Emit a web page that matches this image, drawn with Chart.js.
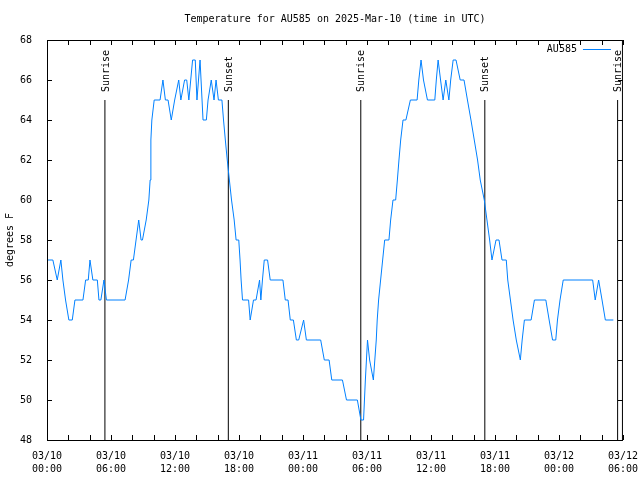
<!DOCTYPE html>
<html>
<head>
<meta charset="utf-8">
<title>Temperature for AU585</title>
<script src="https://cdn.jsdelivr.net/npm/chart.js@4.4.1/dist/chart.umd.min.js"></script>
<style>
  body { margin: 0; background: #fff; }
  canvas { display: block; }
</style>
</head>
<body>
<canvas id="tempChart" width="640" height="480"></canvas>
<script>
// hours since 03/10 00:00 UTC, and the reading in degrees F
const hours = [
  0, 0.55, 0.96, 1.3, 1.49, 1.74, 2.05, 2.37, 2.62, 3.37,
  3.62, 3.87, 4.03, 4.3, 4.72, 4.87, 5.05, 5.34, 5.57, 7.32,
  7.65, 7.89, 8.1, 8.35, 8.6, 8.82, 8.95, 9.3, 9.55, 9.67,
  9.74, 9.83, 10.05, 10.6, 10.87, 11.1, 11.35, 11.65, 11.97, 12.35,
  12.55, 12.9, 13.1, 13.3, 13.65, 13.9, 14.06, 14.35, 14.63, 14.94,
  15.1, 15.4, 15.66, 15.85, 16.07, 16.4, 16.55, 16.72, 16.9, 17.1,
  17.3, 17.55, 17.73, 17.98, 18.1, 18.2, 18.33, 18.9, 19.05, 19.36,
  19.6, 19.93, 20.05, 20.2, 20.37, 20.68, 20.93, 22.12, 22.34, 22.6,
  22.81, 23.1, 23.38, 23.6, 24.06, 24.32, 25.66, 26.0, 26.45, 26.7,
  27.7, 28.08, 29.1, 29.43, 29.68, 29.85, 30.05, 30.25, 30.6, 30.87,
  30.96, 31.09, 31.28, 31.47, 31.66, 32.06, 32.22, 32.44, 32.69, 32.85,
  33.0, 33.16, 33.38, 33.65, 34.07, 34.7, 34.86, 35.07, 35.3, 35.67,
  36.36, 36.5, 36.67, 36.9, 37.14, 37.39, 37.68, 37.85, 38.08, 38.35,
  38.74, 39.1, 39.42, 39.75, 40.06, 40.37, 40.62, 41.0, 41.25, 41.5,
  41.72, 42.1, 42.38, 42.66, 43.06, 43.2, 43.45, 43.7, 44.0, 44.38,
  44.55, 44.76, 45.39, 45.7, 46.77, 47.08, 47.4, 47.7, 47.86, 48.1,
  48.4, 51.16, 51.4, 51.72, 52.04, 52.35, 53.1
];
const tempF = [
  57, 57, 56, 57, 56, 55, 54, 54, 55, 55,
  56, 56, 57, 56, 56, 55, 55, 56, 55, 55,
  56, 57, 57, 58, 59, 58, 58, 59, 60, 61,
  63, 64, 65, 65, 66, 65, 65, 64, 65, 66,
  65, 66, 66, 65, 67, 67, 65, 67, 64, 64,
  65, 66, 65, 66, 65, 65, 64, 63, 62, 61,
  60, 59, 58, 58, 57, 56, 55, 55, 54, 55,
  55, 56, 55, 56, 57, 57, 56, 56, 55, 55,
  54, 54, 53, 53, 54, 53, 53, 52, 52, 51,
  51, 50, 50, 49, 49, 51, 53, 52, 51, 53,
  54, 55, 56, 57, 58, 58, 59, 60, 60, 61,
  62, 63, 64, 64, 65, 65, 66, 67, 66, 65,
  65, 66, 67, 66, 65, 66, 65, 66, 67, 67,
  66, 66, 65, 64, 63, 62, 61, 60, 59, 58,
  57, 58, 58, 57, 57, 56, 55, 54, 53, 52,
  53, 54, 54, 55, 55, 54, 53, 53, 54, 55,
  56, 56, 55, 56, 55, 54, 54
];

// sunrise / sunset markers (hours since 03/10 00:00 UTC)
const sunHours = [5.43, 17.0, 29.42, 41.05, 53.5];
const sunLabels = ["Sunrise", "Sunset", "Sunrise", "Sunset", "Sunrise"];
const sunLineTop = 65;

// x tick labels, one per 6 hours
const xTickDays = ["03/10", "03/10", "03/10", "03/10", "03/11", "03/11", "03/11", "03/11", "03/12", "03/12"];
const xTickTimes = ["00:00", "06:00", "12:00", "18:00", "00:00", "06:00", "12:00", "18:00", "00:00", "06:00"];

const lineColor = "#0080ff";
const monoFont = "'DejaVu Sans Mono', 'Liberation Mono', monospace";

Chart.defaults.font.family = monoFont;
Chart.defaults.font.size = 10;
Chart.defaults.color = "#000";

/**
 * gnuplot look: box frame, inward tics, sun labels and the key
 */
const gnuplotFrame = {
  id: "gnuplotFrame",
  afterDatasetsDraw(chart) {
    const { ctx, chartArea: a, scales } = chart;
    const x = scales.x;
    const y = scales.y;
    ctx.save();
    ctx.strokeStyle = "#000";
    ctx.lineWidth = 1;

    ctx.beginPath();
    ctx.rect(a.left + 0.5, a.top + 0.5, a.right - a.left - 1, a.bottom - a.top);
    // x tics every 2 hours, bottom and top
    for (let h = 0; h <= 54; h += 2) {
      const px = Math.round(x.getPixelForValue(h)) + 0.5;
      ctx.moveTo(px, a.bottom);
      ctx.lineTo(px, a.bottom - 5);
      ctx.moveTo(px, a.top);
      ctx.lineTo(px, a.top + 5);
    }
    // y tics, left and right
    for (let t = 48; t <= 68; t += 2) {
      const py = Math.round(y.getPixelForValue(t)) + 0.5;
      ctx.moveTo(a.left, py);
      ctx.lineTo(a.left + 5, py);
      ctx.moveTo(a.right, py);
      ctx.lineTo(a.right - 5, py);
    }
    ctx.stroke();

    // rotated labels over the sun lines
    ctx.fillStyle = "#000";
    ctx.font = "10px " + monoFont;
    ctx.textAlign = "left";
    ctx.textBaseline = "middle";
    sunHours.forEach((h, i) => {
      const px = x.getPixelForValue(h);
      const py = y.getPixelForValue(sunLineTop) - 8;
      ctx.save();
      ctx.translate(px + 1, py);
      ctx.rotate(-Math.PI / 2);
      ctx.fillText(sunLabels[i], 0, 0);
      ctx.restore();
    });

    // key, top right
    const keyY = a.top + 9.5;
    ctx.textAlign = "right";
    ctx.fillText("AU585", a.right - 46, keyY);
    ctx.strokeStyle = lineColor;
    ctx.beginPath();
    ctx.moveTo(a.right - 40, keyY);
    ctx.lineTo(a.right - 12, keyY);
    ctx.stroke();
    ctx.restore();
  },
};

const sunDatasets = sunHours.map((h, i) => ({
  label: sunLabels[i],
  data: [{ x: h, y: 48 }, { x: h, y: sunLineTop }],
  borderColor: "#000",
  borderWidth: 1,
  pointRadius: 0,
}));

new Chart(document.getElementById("tempChart"), {
  type: "line",
  data: {
    datasets: [
      {
        label: "AU585",
        data: hours.map((h, i) => ({ x: h, y: tempF[i] })),
        borderColor: lineColor,
        borderWidth: 1,
        pointRadius: 0,
        tension: 0,
      },
      ...sunDatasets,
    ],
  },
  options: {
    responsive: false,
    animation: false,
    layout: { padding: { left: 0, right: 13, top: 0, bottom: 0 } },
    plugins: {
      legend: { display: false },
      tooltip: { enabled: false },
      title: {
        display: true,
        fullSize: false,
        text: "Temperature for AU585 on 2025-Mar-10 (time in UTC)",
        color: "#000",
        font: { size: 10, weight: "normal", lineHeight: 1.2 },
        padding: { top: 13, bottom: 15 },
      },
    },
    scales: {
      x: {
        type: "linear",
        min: 0,
        max: 54,
        grid: { display: false },
        border: { display: false },
        ticks: {
          stepSize: 6,
          autoSkip: false,
          maxRotation: 0,
          padding: 2,
          font: { size: 10, lineHeight: 1.3 },
          callback: (value) => {
            const i = Math.round(value / 6);
            return [xTickDays[i], xTickTimes[i]];
          },
        },
        afterFit: (scale) => { scale.height = 40; },
      },
      y: {
        min: 48,
        max: 68,
        grid: { display: false },
        border: { display: false },
        ticks: { stepSize: 2, padding: 7 },
        title: {
          display: true,
          text: "degrees F",
          font: { size: 10 },
          padding: { top: 4, bottom: 0 },
        },
        afterFit: (scale) => { scale.width = 47; },
      },
    },
  },
  plugins: [gnuplotFrame],
});
</script>
</body>
</html>
